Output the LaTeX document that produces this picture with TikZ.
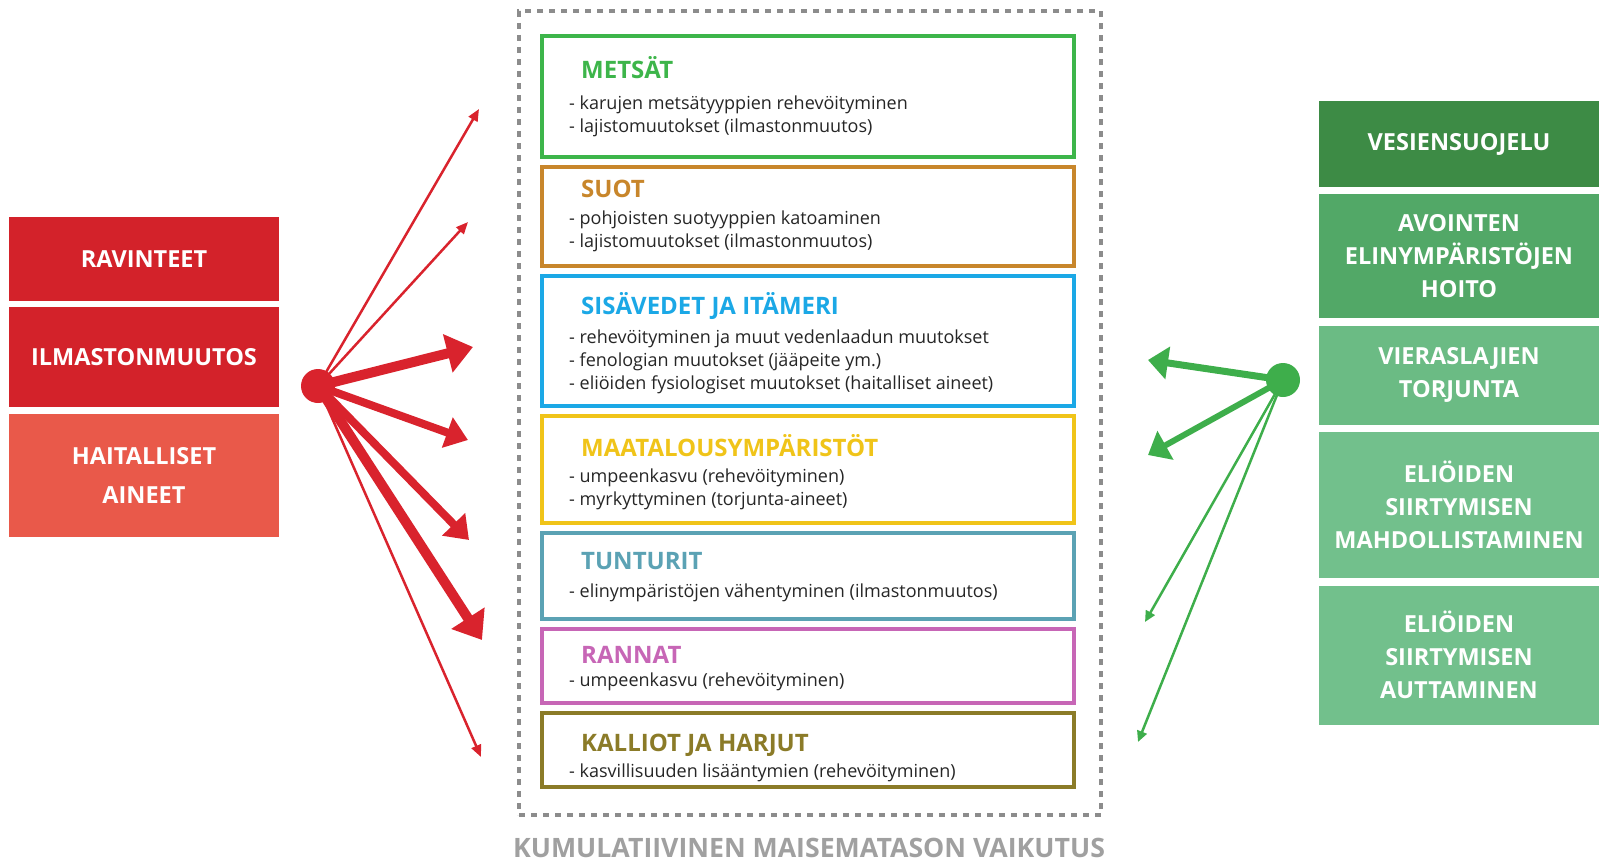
\documentclass[tikz,border=0pt]{standalone}
\usepackage{fontspec}
\setmainfont{Open Sans}
\usetikzlibrary{shapes, arrows.meta, positioning, backgrounds}

\definecolor{causered}{HTML}{D3222A}
\definecolor{causelight}{HTML}{E9594A}
\definecolor{arrowred}{HTML}{D9232D}
\definecolor{arrowgreen}{HTML}{3EAE4B}
\definecolor{greendark}{HTML}{3D8B45}
\definecolor{greenmid}{HTML}{52A867}
\definecolor{greenlight}{HTML}{6BBB84}
\definecolor{greenpale}{HTML}{72C08C}
\definecolor{metsacol}{HTML}{3DB54A}
\definecolor{suocol}{HTML}{C8862B}
\definecolor{vesicol}{HTML}{1BA8E6}
\definecolor{maatcol}{HTML}{F0C419}
\definecolor{tunturicol}{HTML}{5BA2B4}
\definecolor{rantacol}{HTML}{C766B6}
\definecolor{kalliocol}{HTML}{8B7B28}
\definecolor{framegray}{HTML}{8C8C8C}
\definecolor{captiongray}{HTML}{A0A0A0}

\tikzstyle{cause} = [rectangle, minimum width=270, text centered, align=center, text=white, font=\fontsize{23.5}{39}\selectfont\bfseries, inner sep=0]
\tikzstyle{measure} = [rectangle, minimum width=280, text centered, align=center, text=white, font=\fontsize{23.5}{33}\selectfont\bfseries, inner sep=0]
\tikzstyle{habitat} = [rectangle, minimum width=532, line width=4, draw, fill=white]
\tikzstyle{head} = [anchor=west, inner sep=0, font=\fontsize{24}{28}\selectfont\bfseries]
\tikzstyle{body} = [anchor=west, inner sep=0, align=left, text=black!85, font=\fontsize{18}{23}\selectfont]

\tikzset{
    hub/.style={
        circle, minimum size=34, inner sep=0
    },
    thickarrow/.style={
        line width=10, -{Triangle[length=26pt, width=38pt]}
    },
    midarrow/.style={
        line width=8, -{Triangle[length=22pt, width=31pt]}
    },
    thinarrow/.style={
        line width=2.5, -{Triangle[length=12pt, width=10pt]}
    },
    greenthick/.style={
        line width=7, -{Triangle[length=20pt, width=32pt]}
    },
    greenthin/.style={
        line width=2.5, -{Triangle[length=11pt, width=10pt]}
    }
}

\begin{document}
\begin{tikzpicture}[x=1pt, y=-1pt]
    \useasboundingbox (0,0) rectangle (1599,862);

    % Causes
    \node (ravinteet) [cause, fill=causered, minimum height=84] at (144,259) {RAVINTEET};
    \node (ilmasto) [cause, fill=causered, minimum height=100, below=6pt of ravinteet] {ILMASTONMUUTOS};
    \node (haitalliset) [cause, fill=causelight, minimum height=123, below=6pt of ilmasto] {HAITALLISET\\AINEET};

    % Landscape frame
    \node (kehys) [rectangle, draw=framegray, line width=3.5, dash pattern=on 6pt off 6pt, minimum width=582, minimum height=804] at (810,413) {};
    \node (kumulatiivinen) [text=captiongray, font=\fontsize{26.7}{30}\selectfont\bfseries, inner sep=0] at (809,848) {KUMULATIIVINEN MAISEMATASON VAIKUTUS};

    % Habitats
    \node (metsat) [habitat, draw=metsacol, minimum height=121] at (808,96.5) {};
    \node (suot) [habitat, draw=suocol, minimum height=99, below=6pt of metsat] {};
    \node (sisavedet) [habitat, draw=vesicol, minimum height=130, below=6pt of suot] {};
    \node (maatalous) [habitat, draw=maatcol, minimum height=107, below=6pt of sisavedet] {};
    \node (tunturit) [habitat, draw=tunturicol, minimum height=86, below=6pt of maatalous] {};
    \node (rannat) [habitat, draw=rantacol, minimum height=74, below=6pt of tunturit] {};
    \node (kalliot) [habitat, draw=kalliocol, minimum height=74, below=6pt of rannat] {};

    \node (metsat-h) [head, text=metsacol] at ([shift={(41,34)}]metsat.north west) {METSÄT};
    \node (metsat-t) [body] at ([shift={(29,82)}]metsat.north west) {- karujen metsätyyppien rehevöityminen\\- lajistomuutokset (ilmastonmuutos)};
    \node (suot-h) [head, text=suocol] at ([shift={(41,24)}]suot.north west) {SUOT};
    \node (suot-t) [body] at ([shift={(29,66)}]suot.north west) {- pohjoisten suotyyppien katoaminen\\- lajistomuutokset (ilmastonmuutos)};
    \node (sisavedet-h) [head, text=vesicol] at ([shift={(41,32)}]sisavedet.north west) {SISÄVEDET JA ITÄMERI};
    \node (sisavedet-t) [body] at ([shift={(29,88)}]sisavedet.north west) {- rehevöityminen ja muut vedenlaadun muutokset\\- fenologian muutokset (jääpeite ym.)\\- eliöiden fysiologiset muutokset (haitalliset aineet)};
    \node (maatalous-h) [head, text=maatcol] at ([shift={(41,32)}]maatalous.north west) {MAATALOUSYMPÄRISTÖT};
    \node (maatalous-t) [body] at ([shift={(29,75)}]maatalous.north west) {- umpeenkasvu (rehevöityminen)\\- myrkyttyminen (torjunta-aineet)};
    \node (tunturit-h) [head, text=tunturicol] at ([shift={(41,30)}]tunturit.north west) {TUNTURIT};
    \node (tunturit-t) [body] at ([shift={(29,62)}]tunturit.north west) {- elinympäristöjen vähentyminen (ilmastonmuutos)};
    \node (rannat-h) [head, text=rantacol] at ([shift={(41,28)}]rannat.north west) {RANNAT};
    \node (rannat-t) [body] at ([shift={(29,55)}]rannat.north west) {- umpeenkasvu (rehevöityminen)};
    \node (kalliot-h) [head, text=kalliocol] at ([shift={(41,34)}]kalliot.north west) {KALLIOT JA HARJUT};
    \node (kalliot-t) [body] at ([shift={(29,62)}]kalliot.north west) {- kasvillisuuden lisääntymien (rehevöityminen)};

    % Measures
    \node (vesiensuojelu) [measure, fill=greendark, minimum height=86] at (1459,144) {VESIENSUOJELU};
    \node (avointen) [measure, fill=greenmid, minimum height=124, below=7pt of vesiensuojelu] {AVOINTEN\\ELINYMPÄRISTÖJEN\\HOITO};
    \node (vieraslajit) [measure, fill=greenlight, minimum height=99, below=7pt of avointen] {VIERASLAJIEN\\TORJUNTA};
    \node (mahdollistaminen) [measure, fill=greenpale, minimum height=146, below=7pt of vieraslajit] {ELIÖIDEN\\SIIRTYMISEN\\MAHDOLLISTAMINEN};
    \node (auttaminen) [measure, fill=greenpale, minimum height=139, below=7pt of mahdollistaminen] {ELIÖIDEN\\SIIRTYMISEN\\AUTTAMINEN};

    % Hubs
    \node (redhub) [hub, fill=arrowred] at (318,386) {};
    \node (greenhub) [hub, fill=arrowgreen] at (1283,380) {};

    \coordinate (r1) at (479,109);
    \coordinate (r2) at (468,222);
    \coordinate (r3) at (473,347);
    \coordinate (r4) at (468,440);
    \coordinate (r5) at (469,540);
    \coordinate (r6) at (482,640);
    \coordinate (r7) at (481,757);
    \coordinate (g1) at (1148,360);
    \coordinate (g2) at (1148,455);
    \coordinate (g3) at (1145,622);
    \coordinate (g4) at (1138,742);

    % Connections
    \begin{scope}[on background layer]
        \draw [thinarrow, arrowred] (redhub.center) -- (r1);
        \draw [thinarrow, arrowred] (redhub.center) -- (r2);
        \draw [thickarrow, arrowred] (redhub.center) -- (r3);
        \draw [midarrow, arrowred] (redhub.center) -- (r4);
        \draw [midarrow, arrowred] (redhub.center) -- (r5);
        \draw [thickarrow, arrowred] (redhub.center) -- (r6);
        \draw [thinarrow, arrowred] (redhub.center) -- (r7);
        \draw [greenthick, arrowgreen] (greenhub.center) -- (g1);
        \draw [greenthick, line width=6, arrowgreen] (greenhub.center) -- (g2);
        \draw [greenthin, arrowgreen] (greenhub.center) -- (g3);
        \draw [greenthin, arrowgreen] (greenhub.center) -- (g4);
    \end{scope}
\end{tikzpicture}
\end{document}
